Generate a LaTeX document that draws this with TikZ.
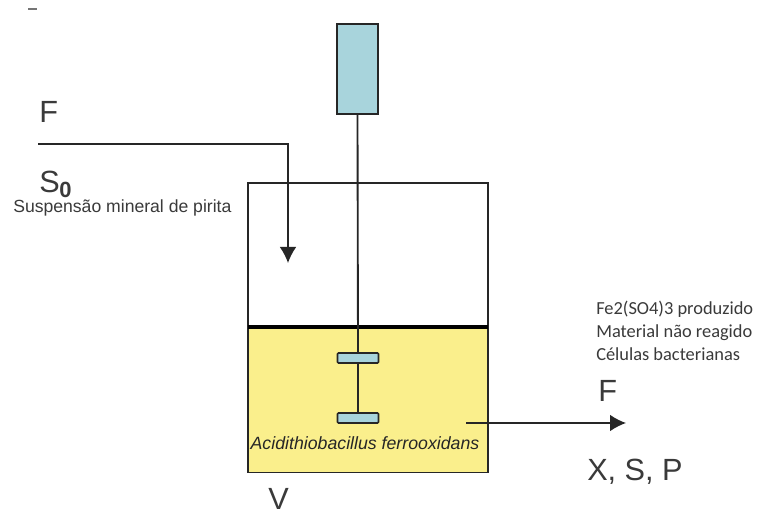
\documentclass[tikz,border=0pt]{standalone}
\usepackage{fontspec}
\setmainfont{Liberation Sans}
\newfontfamily\calibrifont{Carlito}
\usetikzlibrary{arrows.meta}
\definecolor{liq}{HTML}{FAEF8C}
\definecolor{blu}{HTML}{A8D4DC}
\definecolor{ink}{HTML}{262626}
\definecolor{lbl}{HTML}{3A3A3A}
\tikzset{
  x=0.75pt,y=-0.75pt,
  boxshape/.style={rectangle,draw=ink,line width=1pt,inner sep=0pt,outer sep=0pt},
  paddle/.style={boxshape,fill=blu,minimum width=30.75pt,minimum height=7.5pt,line width=1.2pt,rounded corners=0.8pt},
  wire/.style={draw=ink,line width=1.1pt},
  flow/.style={wire,-{Latex[length=12pt,width=12.5pt]}},
  big/.style={inner sep=0pt,text=lbl,font=\fontsize{23}{26}\selectfont,anchor=base west},
  small/.style={inner sep=0pt,text=lbl,font=\calibrifont\fontsize{13.8}{16}\selectfont,anchor=base west}
}
\begin{document}
\begin{tikzpicture}
\useasboundingbox (0,0) rectangle (758,513);
\fill[white] (0,0) rectangle (758,513);
% tank
\node[boxshape,minimum width=180pt,minimum height=108pt,anchor=north west] (upper) at (248,183) {};
\node[boxshape,fill=liq,minimum width=180pt,minimum height=109pt,anchor=north west] (liquid) at (248,327) {};
\draw[black,line width=2.4pt] (liquid.north west) -- (liquid.north east);
% motor and shaft
\node[boxshape,fill=blu,minimum width=30.75pt,minimum height=67.5pt,anchor=north west,line width=1.2pt] (motor) at (337,24) {};
\node[paddle] (p1) at (358,358) {};
\node[paddle] (p2) at (358,418) {};
\draw[wire,line width=1.4pt] (motor.south) -- (p1.north);
\draw[wire,line width=1.4pt] (p1.south) -- (p2.north);
% flows
\coordinate (feedstart) at (38,144);
\coordinate (feedend) at (288,263);
\draw[flow] (feedstart) -| (feedend);
\coordinate (outstart) at (466,423);
\coordinate (outend) at (626,423);
\draw[flow] (outstart) -- (outend);
% stray mark
\coordinate (marka) at (28,9);
\coordinate (markb) at (37,9);
\draw[lbl!70,line width=0.8pt] (marka) -- (markb);
% labels
\node[big] (lf) at (39,123) {F};
\node[big] (ls) at (39,193) {S\kern-0.3pt\raisebox{-3.5pt}{\fontsize{16.5}{16}\selectfont\bfseries 0}};
\node[inner sep=0pt,text=lbl,font=\fontsize{13.2}{16}\selectfont,anchor=base west] (lsusp) at (13,213) {Suspensão mineral de pirita};
\node[inner sep=0pt,text=ink,font=\itshape\fontsize{13.3}{16}\selectfont,anchor=base] (lbac) at (365,450) {Acidithiobacillus ferrooxidans};
\node[big] (lv) at (268,510) {V};
\node[small] (l1) at (596,315) {Fe2(SO4)3 produzido};
\node[small] (l2) at (596,338) {Material não reagido};
\node[small] (l3) at (596,361) {Células bacterianas};
\node[big] (lf2) at (598,402) {F};
\node[big] (lx) at (587,481) {X, S, P};
\end{tikzpicture}
\end{document}
